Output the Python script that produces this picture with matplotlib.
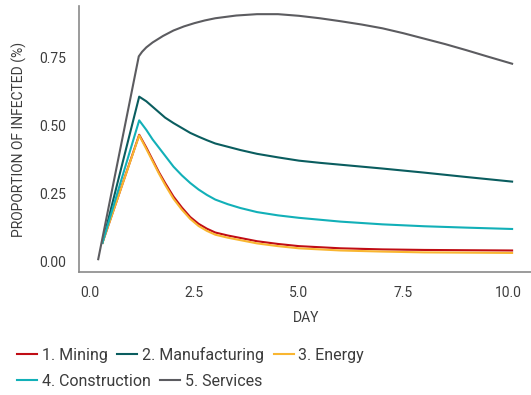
import matplotlib
matplotlib.use("Agg")
import matplotlib.pyplot as plt

# ---- data ----
days = [0.3, 1.18, 1.35, 1.5, 1.65, 1.8, 2.0, 2.2, 2.4, 2.6, 2.8, 3.0, 3.3, 3.6, 4.0,
        4.5, 5.0, 5.5, 6.0, 7.0, 8.0, 9.0, 10.1]
mining = [0.07, 0.467, 0.42, 0.375, 0.33, 0.29, 0.24, 0.20, 0.165, 0.14, 0.122, 0.108, 0.097,
          0.088, 0.076, 0.066, 0.058, 0.054, 0.050, 0.046, 0.044, 0.043, 0.042]
manufacturing = [0.07, 0.607, 0.59, 0.57, 0.55, 0.53, 0.51, 0.492, 0.474, 0.46, 0.447, 0.435, 0.423,
                 0.411, 0.397, 0.384, 0.372, 0.364, 0.357, 0.343, 0.328, 0.312, 0.295]
energy = [0.07, 0.465, 0.415, 0.37, 0.325, 0.283, 0.232, 0.192, 0.158, 0.132, 0.114, 0.100, 0.089,
          0.080, 0.068, 0.058, 0.050, 0.046, 0.042, 0.038, 0.035, 0.034, 0.033]
construction = [0.07, 0.52, 0.485, 0.45, 0.42, 0.39, 0.35, 0.318, 0.29, 0.266, 0.246, 0.229, 0.212,
                0.198, 0.183, 0.171, 0.162, 0.155, 0.148, 0.138, 0.131, 0.126, 0.121]

services_days = [0.2, 1.17, 1.25, 1.35, 1.5, 1.75, 2.0, 2.25, 2.5, 2.75, 3.0, 3.5, 4.0, 4.5, 5.0,
                 5.5, 6.0, 6.5, 7.0, 7.5, 8.0, 8.5, 9.0, 9.5, 10.1]
services = [0.01, 0.755, 0.772, 0.788, 0.806, 0.83, 0.85, 0.865, 0.877, 0.887, 0.895, 0.905, 0.910,
            0.910, 0.904, 0.895, 0.884, 0.872, 0.858, 0.840, 0.820, 0.800, 0.778, 0.755, 0.728]

labels = ["1. Mining", "2. Manufacturing", "3. Energy", "4. Construction", "5. Services"]
colors = ["#c00d15", "#0a5d5f", "#f9b631", "#12b0b8", "#5c5c60"]
xticks = [0.0, 2.5, 5.0, 7.5, 10.0]
yticks = [0.0, 0.25, 0.50, 0.75]

plt.rcParams["font.family"] = ["Roboto", "DejaVu Sans"]
text_color = "#3c3c3c"

fig = plt.figure(figsize=(5.31, 3.95), dpi=100)
ax = fig.add_axes([79 / 531, (395 - 272) / 395, (533 - 79) / 531, (272 - 6) / 395])

series = [(days, mining), (days, manufacturing), (days, energy), (days, construction),
          (services_days, services)]
handles = []
for (xs, ys), lab, col in zip(series, labels, colors):
    h, = ax.plot(xs, ys, color=col, lw=1.5, label=lab, solid_joinstyle="round")
    handles.append(h)

ax.set_xlim(-0.26, 10.6)
ax.set_ylim(-0.037, 0.94)
ax.set_xticks(xticks)
ax.set_xticklabels([f"{t:.1f}" for t in xticks])
ax.set_yticks(yticks)
ax.set_yticklabels([f"{t:.2f}" for t in yticks])
ax.tick_params(length=0, labelsize=10, colors=text_color)
ax.tick_params(axis="y", pad=9)
ax.tick_params(axis="x", pad=10)
for s in ["top", "right"]:
    ax.spines[s].set_visible(False)
for s in ["left", "bottom"]:
    ax.spines[s].set_color("#8a8a8a")
    ax.spines[s].set_linewidth(1.2)

ax.set_xlabel("DAY", fontsize=10, color=text_color, labelpad=8)
ax.set_ylabel("PROPORTION OF INFECTED (%)", fontsize=10, color=text_color, labelpad=9)

leg_kw = dict(frameon=False, fontsize=11.5, handlelength=1.25, handletextpad=0.3,
              columnspacing=0.6, borderpad=0, borderaxespad=0, labelcolor=text_color)
leg1 = fig.legend(handles[:3], labels[:3], ncol=3, loc="center left",
                  bbox_to_anchor=(17 / 531, 1 - 355 / 395), **leg_kw)
leg2 = fig.legend(handles[3:], labels[3:], ncol=2, loc="center left",
                  bbox_to_anchor=(17 / 531, 1 - 381 / 395), **leg_kw)

fig.savefig("out.png", dpi=100)
